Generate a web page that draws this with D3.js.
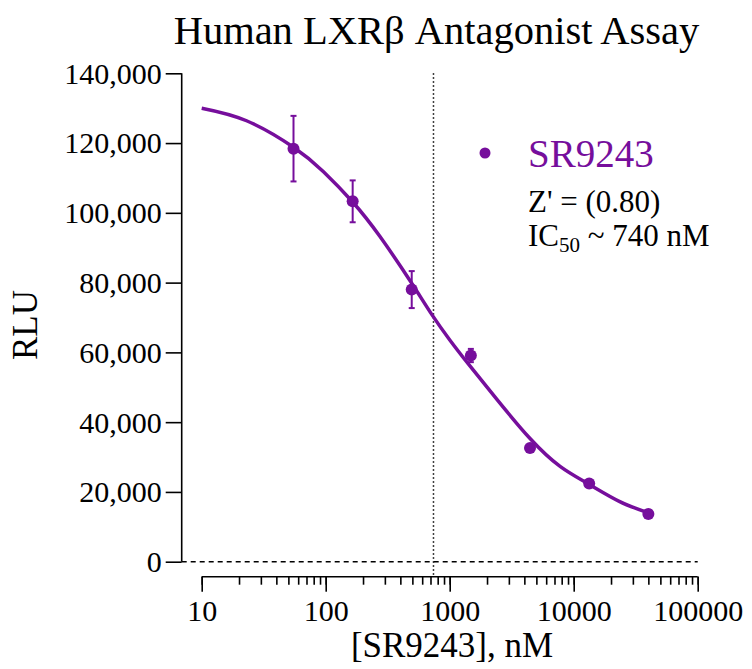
<!DOCTYPE html>
<html>
<head>
<meta charset="utf-8">
<script src="https://cdn.jsdelivr.net/npm/d3@7"></script>
<style>
  body { margin: 0; background: #fff; }
  text { font-family: "Liberation Serif", "Times New Roman", serif; }
</style>
</head>
<body>
<div id="chart"></div>
<script>
// data
const concentrations = [55, 165, 494, 1481, 4444, 13333, 40000];
const rluMean = [118400, 103300, 78000, 59100, 32600, 22400, 13700];
const rluErr = [9400, 6000, 5300, 1900, 800, 600, 500];

// fitted curve
const fitConc = [10, 23, 55, 96, 165, 274, 488, 716, 1005, 1413, 2393, 4446, 7766, 13120, 23300, 40000];
const fitRlu = [130000, 126400, 118800, 111800, 103100, 93200, 80100, 70900, 63500, 56700, 46600, 35300, 27300, 22300, 17300, 14000];

const xTickValues = [10, 100, 1000, 10000, 100000];
const yTickValues = [0, 20000, 40000, 60000, 80000, 100000, 120000, 140000];
const ic50 = 740;

const title = "Human LXRβ Antagonist Assay";
const seriesName = "SR9243";
const zPrime = "Z' = (0.80)";

const purple = "#760e9c";
const width = 752, height = 669;

const svg = d3.select("#chart").append("svg")
    .attr("width", width)
    .attr("height", height);

const x = d3.scaleLog().domain([10, 100000]).range([201.7, 697.7]);
const y = d3.scaleLinear().domain([0, 140000]).range([561.7, 73.3]);

// title
svg.append("text")
    .attr("x", 436.5).attr("y", 44)
    .attr("text-anchor", "middle")
    .style("font-size", "40.5px")
    .text(title);

// y axis
const yAxis = svg.append("g")
    .attr("transform", "translate(181.7,0)")
    .call(d3.axisLeft(y).tickValues(yTickValues).tickSize(16).tickPadding(4).tickFormat(d3.format(",")));
yAxis.select(".domain").attr("d", `M0,${y(0)}V${y(140000)}`);
yAxis.selectAll("line, path").attr("stroke", "#000").attr("stroke-width", 1.6);
yAxis.selectAll("text").style("font-size", "30px").attr("fill", "#000").attr("dy", "0.33em");

// x axis, major + minor ticks
const xAxisY = 576.7;
const xMinor = svg.append("g")
    .attr("transform", `translate(0,${xAxisY})`)
    .call(d3.axisBottom(x).tickValues(x.ticks()).tickSize(8).tickFormat(""));
xMinor.select(".domain").remove();
xMinor.selectAll("line").attr("stroke", "#000").attr("stroke-width", 1.6);

const xAxis = svg.append("g")
    .attr("transform", `translate(0,${xAxisY})`)
    .call(d3.axisBottom(x).tickValues(xTickValues).tickSize(15).tickPadding(8).tickFormat(d3.format("d")));
xAxis.select(".domain").attr("d", `M${x(10)},0H${x(100000)}`);
xAxis.selectAll("line, path").attr("stroke", "#000").attr("stroke-width", 1.6);
xAxis.selectAll("text").style("font-size", "30px").attr("fill", "#000");

// axis titles
svg.append("text")
    .attr("x", 452).attr("y", 657)
    .attr("text-anchor", "middle")
    .style("font-size", "35px")
    .text("[SR9243], nM");

svg.append("text")
    .attr("transform", "translate(37,325) rotate(-90)")
    .attr("text-anchor", "middle")
    .style("font-size", "35px")
    .text("RLU");

// zero line (dashed) and IC50 marker (dotted)
svg.append("line")
    .attr("x1", 181.7).attr("x2", x(100000))
    .attr("y1", y(0)).attr("y2", y(0))
    .attr("stroke", "#000").attr("stroke-width", 1.5)
    .attr("stroke-dasharray", "5,4");

svg.append("line")
    .attr("x1", x(ic50)).attr("x2", x(ic50))
    .attr("y1", y(140000)).attr("y2", xAxisY)
    .attr("stroke", "#000").attr("stroke-width", 1.5)
    .attr("stroke-dasharray", "1.5,2.5");

// fit curve
const fit = fitConc.map((c, i) => [c, fitRlu[i]]);
svg.append("path")
    .datum(fit)
    .attr("fill", "none")
    .attr("stroke", purple)
    .attr("stroke-width", 3.5)
    .attr("d", d3.line().x(d => x(d[0])).y(d => y(d[1])).curve(d3.curveNatural));

// error bars and points
const pts = concentrations.map((c, i) => ({c: c, m: rluMean[i], e: rluErr[i]}));
const eb = svg.append("g").attr("stroke", purple).attr("stroke-width", 2);
eb.selectAll(".v").data(pts).enter().append("line")
    .attr("x1", d => x(d.c)).attr("x2", d => x(d.c))
    .attr("y1", d => y(d.m + d.e)).attr("y2", d => y(d.m - d.e));
eb.selectAll(".t").data(pts).enter().append("line")
    .attr("x1", d => x(d.c) - 3).attr("x2", d => x(d.c) + 3)
    .attr("y1", d => y(d.m + d.e)).attr("y2", d => y(d.m + d.e));
eb.selectAll(".b").data(pts).enter().append("line")
    .attr("x1", d => x(d.c) - 3).attr("x2", d => x(d.c) + 3)
    .attr("y1", d => y(d.m - d.e)).attr("y2", d => y(d.m - d.e));

svg.append("g").selectAll("circle").data(pts).enter().append("circle")
    .attr("cx", d => x(d.c)).attr("cy", d => y(d.m))
    .attr("r", 6)
    .attr("fill", purple);

// legend
svg.append("circle").attr("cx", 485).attr("cy", 153).attr("r", 5.5).attr("fill", purple);
svg.append("text")
    .attr("x", 528).attr("y", 167)
    .style("font-size", "39px").attr("fill", purple)
    .text(seriesName);
svg.append("text")
    .attr("x", 528).attr("y", 212)
    .style("font-size", "31px")
    .text(zPrime);
const ic = svg.append("text")
    .attr("x", 528).attr("y", 246)
    .style("font-size", "31px");
ic.append("tspan").text("IC");
ic.append("tspan").attr("dy", 6).style("font-size", "21px").text("50");
ic.append("tspan").attr("dy", -6).text(" ~ 740 nM");
</script>
</body>
</html>
